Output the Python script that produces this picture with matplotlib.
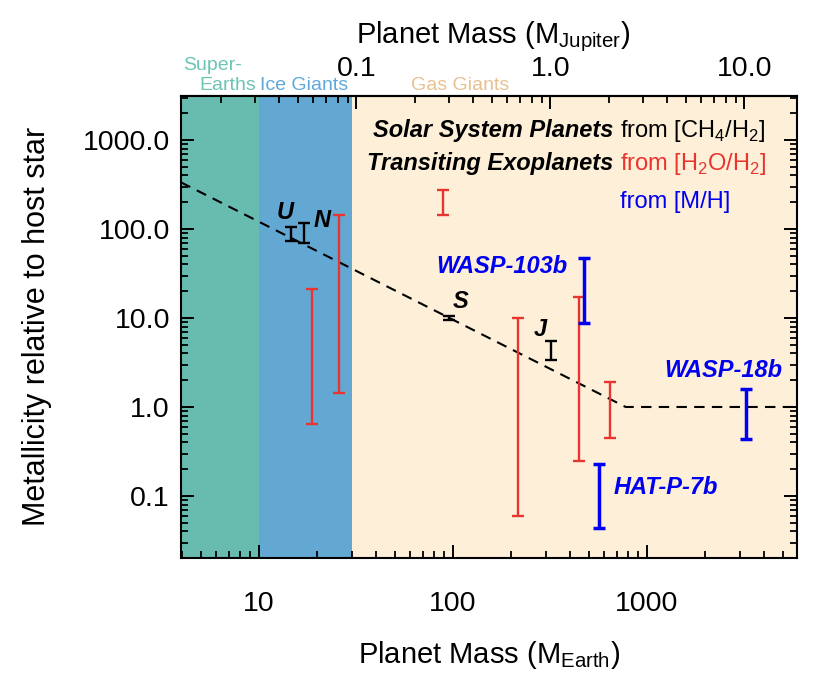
import numpy as np
import matplotlib.pyplot as plt
from matplotlib.ticker import FixedLocator, NullFormatter, LogLocator

plt.rcParams['font.family'] = ['Liberation Sans', 'DejaVu Sans']
plt.rcParams['mathtext.fontset'] = 'custom'
plt.rcParams['mathtext.rm'] = 'Liberation Sans'

MJUP = 317.8

# solar system planets, from CH4/H2 (mass in M_earth, low, high)
ss_names = ['U', 'N', 'S', 'J']
ss_mass = [14.6, 17.1, 95, 320]
ss_lo = [73, 70, 9.6, 3.4]
ss_hi = [105, 117, 10.4, 5.5]

# exoplanets from H2O/H2
h2o_mass = [18.7, 25.8, 89, 216, 446, 644]
h2o_lo = [0.64, 1.44, 144, 0.060, 0.25, 0.45]
h2o_hi = [21, 144, 274, 10.0, 17, 1.91]

# exoplanets from M/H
mh_names = ['WASP-103b', 'HAT-P-7b', 'WASP-18b']
mh_mass = [473, 566, 3235]
mh_lo = [8.8, 0.044, 0.44]
mh_hi = [47, 0.23, 1.6]

# solar system trend
trend_mass = [3.96, 776, 5930]
trend_z = [334, 1.0, 1.0]

# mass regimes
regions = [(3.0, 10, '#67bbaf'), (10, 30, '#63a7d3'), (30, 10000, '#fdefd8')]


def bars(ax, m, lo, hi, color, lw, cap):
    m = np.array(m)
    lo = np.array(lo)
    hi = np.array(hi)
    mid = np.sqrt(lo * hi)
    ax.errorbar(m, mid, yerr=[mid - lo, hi - mid], fmt='none', ecolor=color,
                elinewidth=lw, capthick=lw, capsize=cap, zorder=5)


fig = plt.figure(figsize=(8.3, 6.91), dpi=100)
ax = fig.add_axes([181 / 830, 1 - 558 / 691, 616 / 830, 462 / 691])

for x0, x1, c in regions:
    ax.axvspan(x0, x1, color=c, lw=0, zorder=0)

ax.plot(trend_mass, trend_z, color='black', ls=(0, (5, 3.5)), lw=1.5, zorder=3)

bars(ax, ss_mass, ss_lo, ss_hi, 'black', 1.7, 4.3)
bars(ax, h2o_mass, h2o_lo, h2o_hi, '#e8352f', 1.7, 4.3)
bars(ax, mh_mass, mh_lo, mh_hi, '#0000f0', 2.5, 4.5)

ax.set_xscale('log')
ax.set_yscale('log')
ax.set_xlim(3.96, 5930)
ax.set_ylim(0.0201, 3120)

for s in ax.spines.values():
    s.set_linewidth(1.5)

ax.xaxis.set_major_locator(FixedLocator([10, 100, 1000]))
ax.set_xticklabels(['10', '100', '1000'])
ax.xaxis.set_minor_locator(LogLocator(base=10, subs=np.arange(2, 10)))
ax.xaxis.set_minor_formatter(NullFormatter())
ax.yaxis.set_major_locator(FixedLocator([0.1, 1, 10, 100, 1000]))
ax.set_yticklabels(['0.1', '1.0', '10.0', '100.0', '1000.0'])
ax.yaxis.set_minor_locator(LogLocator(base=10, subs=np.arange(2, 10)))
ax.yaxis.set_minor_formatter(NullFormatter())

ax.tick_params(axis='x', which='both', direction='in', bottom=True, top=False,
               labelsize=20.5, pad=24)
ax.tick_params(axis='y', which='both', direction='in', left=True, right=True,
               labelsize=20.5, pad=8)
ax.tick_params(which='major', length=9.5, width=1.4)
ax.tick_params(which='minor', length=5, width=1.3)

sec = ax.secondary_xaxis('top', functions=(lambda m: m / MJUP, lambda j: j * MJUP))
sec.set_xscale('log')
sec.xaxis.set_major_locator(FixedLocator([0.1, 1, 10]))
sec.set_xticklabels(['0.1', '1.0', '10.0'])
sec.xaxis.set_minor_locator(LogLocator(base=10, subs=np.arange(2, 10)))
sec.xaxis.set_minor_formatter(NullFormatter())
sec.tick_params(which='both', direction='in', labelsize=20.5, pad=10)
sec.tick_params(which='major', length=9.5, width=1.4)
sec.tick_params(which='minor', length=5, width=1.3)
sec.spines['top'].set_linewidth(1.5)

fig.text(493 / 830, 1 - 37 / 691, 'Planet Mass (M$_{\\mathrm{Jupiter}}$)',
         fontsize=21, ha='center', va='center')

ax.set_xlabel('Planet Mass (M$_{\\mathrm{Earth}}$)', fontsize=21, va='center')
ax.xaxis.set_label_coords(0.5, (558 - 655) / 462)
ax.set_ylabel('Metallicity relative to host star', fontsize=22, va='center')
ax.yaxis.set_label_coords((37 - 181) / 616, 0.502)

# regime labels above the frame
fig.text(183 / 830, 1 - 70 / 691, 'Super-', color='#6cc4b4', fontsize=14, ha='left', va='baseline')
fig.text(256 / 830, 1 - 90 / 691, 'Earths', color='#6cc4b4', fontsize=14, ha='right', va='baseline')
fig.text(260 / 830, 1 - 90 / 691, 'Ice Giants', color='#5fa8dc', fontsize=14, ha='left', va='baseline')
fig.text(411 / 830, 1 - 90 / 691, 'Gas Giants', color='#e8c190', fontsize=14, ha='left', va='baseline')

# legend text
lx1 = (613 - 181) / 616
lx2 = (620 - 181) / 616
ax.text(lx1, 0.911, 'Solar System Planets', transform=ax.transAxes, fontsize=17,
        fontweight='bold', fontstyle='italic', ha='right', va='baseline')
ax.text(lx2, 0.911, 'from [CH$_4$/H$_2$]', transform=ax.transAxes, fontsize=17,
        color='black', ha='left', va='baseline')
ax.text(lx1, 0.840, 'Transiting Exoplanets', transform=ax.transAxes, fontsize=17,
        fontweight='bold', fontstyle='italic', ha='right', va='baseline')
ax.text(lx2, 0.840, 'from [H$_2$O/H$_2$]', transform=ax.transAxes, fontsize=17,
        color='#e8352f', ha='left', va='baseline')
ax.text(lx2, 0.758, 'from [M/H]', transform=ax.transAxes, fontsize=17,
        color='#0000f0', ha='left', va='baseline')

# planet labels
ss_lab = [(13.6, 155), (21.1, 126), (110, 15.5), (281, 7.5)]
for name, (x, y) in zip(ss_names, ss_lab):
    ax.text(x, y, name, fontsize=17, fontweight='bold', fontstyle='italic',
            ha='center', va='center', zorder=6)
mh_lab = [(179, 38), (1253, 0.126), (2466, 2.54)]
for name, (x, y) in zip(mh_names, mh_lab):
    ax.text(x, y, name, fontsize=17, fontweight='bold', fontstyle='italic',
            color='#0000f0', ha='center', va='center', zorder=6)

fig.savefig('out.png', dpi=100)
